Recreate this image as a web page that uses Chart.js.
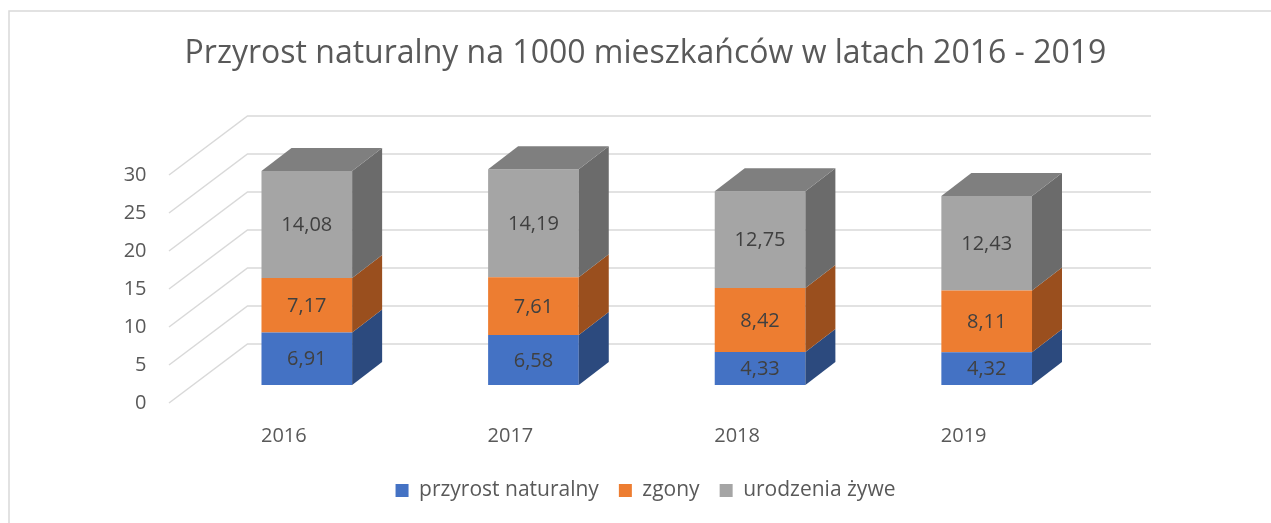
<!DOCTYPE html>
<html lang="pl">
<head>
<meta charset="utf-8">
<title>Przyrost naturalny</title>
<script src="https://cdn.jsdelivr.net/npm/chart.js@4.4.0/dist/chart.umd.min.js"></script>
<style>
    html, body { margin: 0; padding: 0; background: #fff; }
    #wrap { width: 1271px; height: 523px; position: relative; }
</style>
</head>
<body>
<div id="wrap"><canvas id="chart"></canvas></div>
<script>
// Dane
const lata = ['2016', '2017', '2018', '2019'];
const przyrost = [6.91, 6.58, 4.33, 4.32];
const zgony = [7.17, 7.61, 8.42, 8.11];
const urodzenia = [14.08, 14.19, 12.75, 12.43];
const yTicks = [0, 5, 10, 15, 20, 25, 30];

const tytul = 'Przyrost naturalny na 1000 mieszkańców w latach 2016 - 2019';

// Kolory scian bocznych (efekt 3D)
const sideColors = ['#2c4a7e', '#9a4f1e', '#6b6b6b'];
const topColor = '#7f7f7f';

Chart.defaults.font.family = "'Open Sans', sans-serif";
Chart.defaults.color = '#595959';

// tlo + ramka
const ramka = {
    id: 'ramka',
    beforeDraw(chart) {
        const ctx = chart.ctx;
        ctx.save();
        ctx.fillStyle = '#fff';
        ctx.fillRect(0, 0, chart.width, chart.height);
        ctx.strokeStyle = '#d9d9d9';
        ctx.lineWidth = 1.5;
        ctx.beginPath();
        ctx.moveTo(9, chart.height + 5);
        ctx.lineTo(9, 11);
        ctx.lineTo(chart.width + 5, 11);
        ctx.stroke();
        ctx.restore();
    }
};

// siatka 3D: sciana tylna + podloga
const siatka3d = {
    id: 'siatka3d',
    beforeDatasetsDraw(chart) {
        const ctx = chart.ctx;
        const y = chart.scales.y;
        const a = chart.chartArea;
        ctx.save();
        ctx.strokeStyle = '#d9d9d9';
        ctx.lineWidth = 1.5;
        yTicks.forEach(v => {
            const py = y.getPixelForValue(v);
            ctx.beginPath();
            ctx.moveTo(a.left - 24.5, py + 18);
            ctx.lineTo(a.left + 54, py - 41);
            ctx.lineTo(a.right + 51, py - 41);
            ctx.stroke();
        });
        ctx.restore();
    }
};

// sciany boczne, gorne i etykiety wartosci
const slupki3d = {
    id: 'slupki3d',
    afterDatasetsDraw(chart) {
        const ctx = chart.ctx;
        const dx = 30, dy = 23;
        const last = chart.data.datasets.length - 1;
        ctx.save();
        chart.data.datasets.forEach((ds, i) => {
            const meta = chart.getDatasetMeta(i);
            meta.data.forEach(bar => {
                const { x, y, base, width } = bar.getProps(['x', 'y', 'base', 'width'], true);
                const l = x - width / 2, r = x + width / 2;
                ctx.fillStyle = sideColors[i];
                ctx.beginPath();
                ctx.moveTo(r, y);
                ctx.lineTo(r + dx, y - dy);
                ctx.lineTo(r + dx, base - dy);
                ctx.lineTo(r, base);
                ctx.closePath();
                ctx.fill();
                if (i === last) {
                    ctx.fillStyle = topColor;
                    ctx.beginPath();
                    ctx.moveTo(l, y);
                    ctx.lineTo(l + dx, y - dy);
                    ctx.lineTo(r + dx, y - dy);
                    ctx.lineTo(r, y);
                    ctx.closePath();
                    ctx.fill();
                }
            });
        });
        ctx.font = "20px 'Open Sans', sans-serif";
        ctx.fillStyle = '#404040';
        ctx.textAlign = 'center';
        ctx.textBaseline = 'middle';
        chart.data.datasets.forEach((ds, i) => {
            const meta = chart.getDatasetMeta(i);
            meta.data.forEach((bar, j) => {
                const { x, y, base } = bar.getProps(['x', 'y', 'base'], true);
                ctx.fillText(ds.data[j].toFixed(2).replace('.', ','), x, (y + base) / 2 + 1);
            });
        });
        ctx.restore();
    }
};

new Chart(document.getElementById('chart'), {
    type: 'bar',
    data: {
        labels: lata,
        datasets: [
            { label: 'przyrost naturalny', data: przyrost, backgroundColor: '#4472c4' },
            { label: 'zgony', data: zgony, backgroundColor: '#ed7d31' },
            { label: 'urodzenia żywe', data: urodzenia, backgroundColor: '#a5a5a5' }
        ]
    },
    options: {
        responsive: true,
        maintainAspectRatio: false,
        animation: false,
        datasets: { bar: { categoryPercentage: 0.8, barPercentage: 0.5, borderWidth: 0 } },
        layout: { padding: { left: 20, right: 0, top: 0, bottom: 12 } },
        plugins: {
            title: {
                display: true,
                text: tytul,
                color: '#595959',
                font: { size: 32, weight: 'normal' },
                padding: { top: 35, bottom: 83.6 }
            },
            legend: {
                position: 'bottom',
                labels: { boxWidth: 13, boxHeight: 13, font: { size: 21 }, color: '#595959', padding: 20 }
            },
            tooltip: { enabled: false }
        },
        scales: {
            x: {
                stacked: true,
                grid: { display: false },
                border: { display: false },
                ticks: { font: { size: 20 }, color: '#595959', padding: 31, labelOffset: -23, maxRotation: 0 },
                afterFit(s) { s.height = 75; }
            },
            y: {
                stacked: true,
                min: 0,
                max: 30,
                grid: { display: false },
                border: { display: false },
                ticks: { stepSize: 5, font: { size: 20 }, color: '#595959', padding: 39, labelOffset: 18 },
                afterFit(s) { s.width = 173.5; }
            },
            yR: {
                type: 'linear',
                position: 'right',
                grid: { display: false },
                border: { display: false },
                ticks: { display: false },
                afterFit(s) { s.width = 171; }
            }
        }
    },
    plugins: [ramka, siatka3d, slupki3d]
});
</script>
</body>
</html>
